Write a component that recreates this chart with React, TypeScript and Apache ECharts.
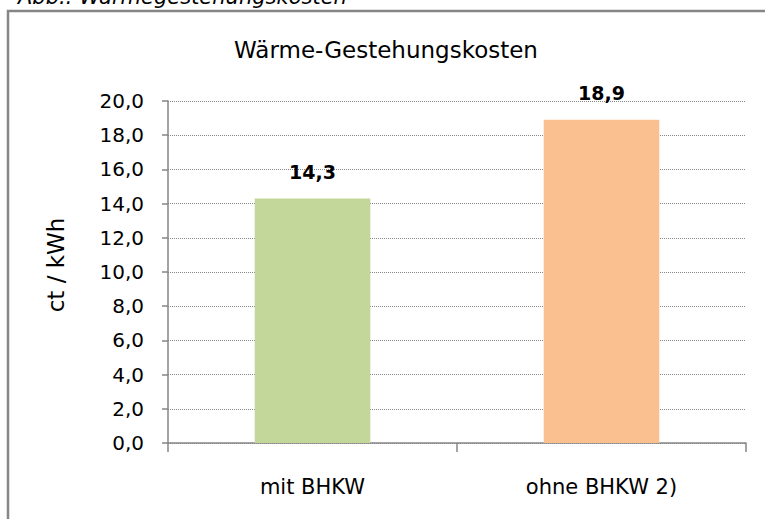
import React, { useEffect, useRef } from "react";
import * as echarts from "echarts";

const categories = ["mit BHKW", "ohne BHKW 2)"];
const values = [14.3, 18.9];
const barColors = ["#C4D79B", "#FAC090"];
const yTicks = { min: 0, max: 20, interval: 2 };
const titleText = "Wärme-Gestehungskosten";
const captionText = "Abb.: Wärmegestehungskosten";
const yName = "ct / kWh";

const FONT = "'DejaVu Sans', sans-serif";
const GRAY = "#868686";

export default function App() {
  const ref = useRef<HTMLDivElement>(null);
  useEffect(() => {
    if (!ref.current) return;
    const chart = echarts.init(ref.current, null, { renderer: "svg" });
    chart.setOption({
      animation: false,
      backgroundColor: "#fff",
      textStyle: { fontFamily: FONT },
      graphic: [
        {
          type: "rect",
          shape: { x: 8, y: 11, width: 900, height: 700 },
          style: { fill: "none", stroke: GRAY, lineWidth: 2.5 },
          silent: true,
        },
        {
          type: "text",
          x: 18,
          y: -3,
          style: {
            text: captionText,
            font: "italic 21px " + FONT,
            fill: "#000",
            align: "left",
            verticalAlign: "middle",
          },
        },
        {
          type: "text",
          x: 386,
          y: 50,
          style: {
            text: titleText,
            font: "23px " + FONT,
            fill: "#000",
            align: "center",
            verticalAlign: "middle",
          },
        },
        {
          type: "text",
          x: 56,
          y: 265,
          rotation: Math.PI / 2,
          style: {
            text: yName,
            font: "23px " + FONT,
            fill: "#000",
            align: "center",
            verticalAlign: "middle",
          },
        },
      ],
      grid: { left: 168, right: 19, top: 101, bottom: 76 },
      xAxis: {
        type: "category",
        data: categories,
        axisLine: { lineStyle: { color: GRAY, width: 1.5 } },
        axisTick: { show: true, length: 9, lineStyle: { color: GRAY, width: 1.5 } },
        axisLabel: { color: "#000", fontSize: 21, fontFamily: FONT, margin: 33 },
      },
      yAxis: {
        type: "value",
        min: yTicks.min,
        max: yTicks.max,
        interval: yTicks.interval,
        axisLine: { show: true, lineStyle: { color: GRAY, width: 1.5 } },
        axisTick: { show: true, length: 6, lineStyle: { color: GRAY, width: 1.5 } },
        axisLabel: {
          color: "#000",
          fontSize: 20,
          fontFamily: FONT,
          margin: 24,
          formatter: (v: number) => v.toFixed(1).replace(".", ","),
        },
        splitLine: { show: true, lineStyle: { color: GRAY, type: "dotted", width: 1 } },
      },
      series: [
        {
          type: "bar",
          barWidth: "40%",
          data: values.map((v, i) => ({ value: v, itemStyle: { color: barColors[i] } })),
          label: {
            show: true,
            position: "top",
            distance: 17,
            color: "#000",
            fontWeight: "bold",
            fontSize: 19,
            fontFamily: FONT,
            formatter: (p: any) => Number(p.value).toFixed(1).replace(".", ","),
          },
        },
      ],
    });
    return () => chart.dispose();
  }, []);
  return (
    <div
      ref={ref}
      style={{ position: "fixed", left: 0, top: 0, width: 765, height: 519 }}
    />
  );
}
